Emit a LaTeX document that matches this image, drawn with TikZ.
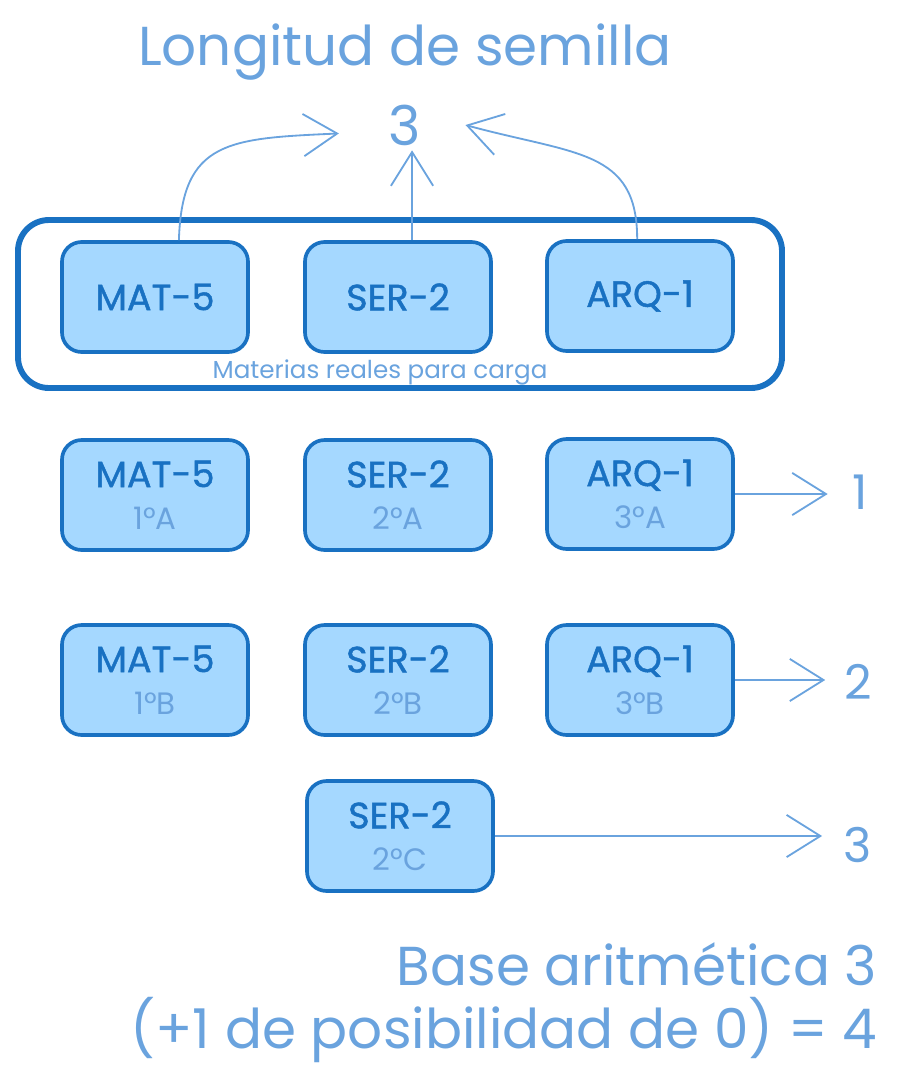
\documentclass[tikz,border=0pt]{standalone}
\usepackage{fontspec}
\setmainfont{Poppins}
\newfontfamily\gruesa[FakeBold=1.2]{Poppins}
\usetikzlibrary{arrows.meta}
\usetikzlibrary{positioning}
\definecolor{boxfill}{HTML}{A5D8FF}
\definecolor{boxline}{HTML}{1971C2}
\definecolor{softblue}{HTML}{6AA3DE}
\tikzstyle{materia} = [rectangle, rounded corners=14pt, minimum width=4.65cm, minimum height=2.75cm, text centered, align=center, fill=boxfill, draw=boxline, line width=2.6pt, text=boxline, font=\gruesa\fontsize{26}{30}\selectfont]
\tikzstyle{rotulo} = [text=softblue, font=\fontsize{39}{45}\selectfont]
\tikzstyle{flecha} = [draw=softblue, line width=1.3pt, -{Straight Barb[length=24pt,width=30pt,line width=1.3pt]}]
\newcommand{\grupo}[1]{{\rmfamily\color{softblue}\fontsize{22}{24}\selectfont #1}}

\begin{document}
\begin{tikzpicture}[x=0.025cm, y=-0.025cm]
\useasboundingbox (0,0) rectangle (902,1088);

 \node (titulo) [rotulo] at (405,52) {Longitud de semilla};
 \node (longitud) [rotulo] at (405,125) {3};

 % materias reales
 \draw[boxline, line width=4.2pt, rounded corners=22pt] (18,220) rectangle (782,388);
 \node (mat1) [materia] at (155,297) {MAT-5};
 \node (ser1) [materia] at (398,297) {SER-2};
 \node (arq1) [materia] at (640,296) {ARQ-1};
 \node (carga) [text=softblue, font=\fontsize{17.5}{20}\selectfont] at (380,372) {Materias reales para carga};

 \draw[flecha] ([xshift=17pt]mat1.north) .. controls +(3,-100) and +(-110,5) .. ([xshift=-32pt,yshift=-6pt]longitud.west);
 \draw[flecha] ([xshift=10pt]ser1.north) -- ([xshift=10pt]ser1.north |- longitud.south);
 \draw[flecha] ([xshift=-2pt]arq1.north) .. controls +(0,-90) and +(110,30) .. ([xshift=28pt]longitud.east);

 % grupos
 \node (mat2) [materia] at (155,495) {MAT-5\\\grupo{1°A}};
 \node (ser2) [materia] at (398,495) {SER-2\\\grupo{2°A}};
 \node (arq2) [materia] at (640,494) {ARQ-1\\\grupo{3°A}};

 \node (mat3) [materia] at (155,680) {MAT-5\\\grupo{1°B}};
 \node (ser3) [materia] at (398,680) {SER-2\\\grupo{2°B}};
 \node (arq3) [materia] at (640,680) {ARQ-1\\\grupo{3°B}};

 \node (ser4) [materia] at (400,836) {SER-2\\\grupo{2°C}};

 \node (uno) [rotulo, font=\fontsize{34}{40}\selectfont] at (860,492) {1};
 \node (dos) [rotulo, font=\fontsize{34}{40}\selectfont] at (858,682) {2};
 \node (tres) [rotulo, font=\fontsize{34}{40}\selectfont] at (858,845) {3};

 \draw[flecha] (arq2.east) -- ([xshift=-14pt]arq2.east -| uno.west);
 \draw[flecha] (arq3.east) -- ([xshift=-10pt]arq3.east -| dos.west);
 \draw[flecha] (ser4.east) -- ([xshift=-12pt]ser4.east -| tres.west);

 \node (base) [rotulo, anchor=east] at (882,964) {Base aritmética 3};
 \node (cero) [rotulo, anchor=east] at (882,1030) {(+1 de posibilidad de 0) = 4};
\end{tikzpicture}
\end{document}
